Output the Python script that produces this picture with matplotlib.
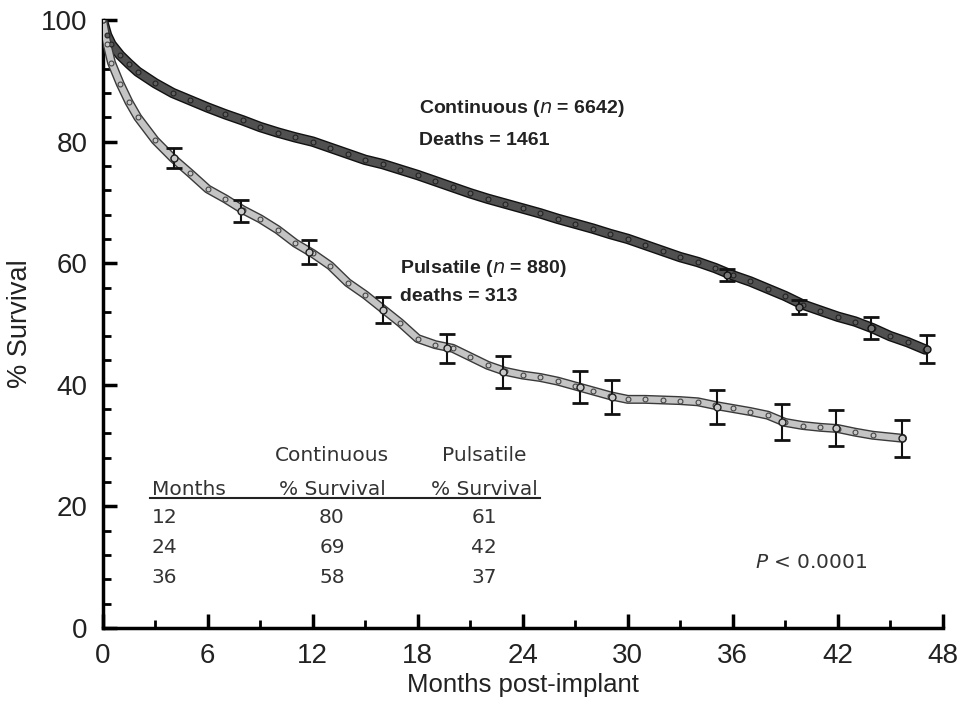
import matplotlib
matplotlib.use("Agg")
import matplotlib.pyplot as plt
import matplotlib.patheffects as pe
from matplotlib.ticker import MultipleLocator

# continuous-flow curve (months, % survival)
cont_months = [0, 0.25, 0.5, 1, 1.5, 2, 3, 4, 5, 6, 7, 8, 9, 10, 11, 12, 13, 14, 15, 16, 17, 18,
               19, 20, 21, 22, 23, 24, 25, 26, 27, 28, 29, 30, 31, 32, 33, 34, 35, 36, 37, 38,
               39, 40, 41, 42, 43, 44, 45, 46, 47]
cont_surv = [100, 97.5, 96, 94.2, 92.8, 91.5, 89.6, 88, 86.8, 85.6, 84.5, 83.5, 82.4, 81.5, 80.7, 80,
             79, 78, 77, 76.3, 75.4, 74.5, 73.5, 72.5, 71.5, 70.6, 69.8, 69, 68.2, 67.3, 66.5,
             65.7, 64.8, 64, 63, 62, 61, 60.2, 59.2, 58, 57, 55.8, 54.6, 53.2, 52.2, 51.2, 50.4,
             49.3, 48, 47, 45.8]
cont_err_m = [35.7, 39.8, 43.9, 47.1]
cont_err_s = [58, 52.8, 49.3, 45.9]
cont_err_e = [1.0, 1.2, 1.8, 2.3]

# pulsatile-flow curve
puls_months = [0, 0.25, 0.5, 1, 1.5, 2, 3, 4, 5, 6, 7, 8, 9, 10, 11, 12, 13, 14, 15, 16, 17,
               18, 19, 20, 21, 22, 23, 24, 25, 26, 27, 28, 29, 30, 31, 32, 33, 34, 35, 36, 37,
               38, 39, 40, 41, 42, 43, 44, 45.7]
puls_surv = [100, 96, 93, 89.5, 86.5, 84, 80.2, 77.3, 74.8, 72.2, 70.6, 68.8, 67.3, 65.5, 63.3, 61.6,
             59.6, 56.8, 54.8, 52.5, 50.2, 47.6, 46.6, 46, 44.6, 43.2, 42.2, 41.6, 41.2, 40.6,
             39.8, 39, 38.2, 37.6, 37.6, 37.5, 37.4, 37.2, 36.6, 36.1, 35.6, 35, 33.8, 33.3,
             33, 32.8, 32.2, 31.7, 31.2]
puls_err_m = [4.1, 7.9, 11.8, 16.0, 19.7, 22.9, 27.3, 29.1, 35.1, 38.8, 41.9, 45.7]
puls_err_s = [77.3, 68.6, 61.8, 52.3, 46.0, 42.1, 39.6, 38.0, 36.3, 33.9, 32.9, 31.2]
puls_err_e = [1.6, 1.8, 2.0, 2.2, 2.4, 2.6, 2.6, 2.8, 2.8, 3.0, 3.0, 3.0]

# survival table
tab_months = ["12", "24", "36"]
tab_cont = ["80", "69", "58"]
tab_puls = ["61", "42", "37"]

fig = plt.figure(figsize=(9.6, 7.16), dpi=100)
ax = fig.add_axes([0.107, 0.123, 0.875, 0.849])

# continuous band
ax.plot(cont_months, cont_surv, color="#505050", lw=5.5, solid_capstyle="round", zorder=3,
        path_effects=[pe.Stroke(linewidth=7.5, foreground="#111111"), pe.Normal()])
ax.plot(cont_months, cont_surv, ls="none", marker="o", ms=3.5, mfc="#606060", mec="#222222",
        mew=0.8, zorder=3.5)
ax.errorbar(cont_err_m, cont_err_s, yerr=cont_err_e, fmt="o", ms=5, mfc="#777777", mec="#111111",
            ecolor="#111111", elinewidth=1.5, capsize=6, capthick=2, zorder=4)

# pulsatile band
ax.plot(puls_months, puls_surv, color="#c4c4c4", lw=4.5, solid_capstyle="round", zorder=3,
        path_effects=[pe.Stroke(linewidth=6.5, foreground="#3a3a3a"), pe.Normal()])
ax.plot(puls_months, puls_surv, ls="none", marker="o", ms=3.5, mfc="#c8c8c8", mec="#444444",
        mew=0.8, zorder=3.5)
ax.errorbar(puls_err_m, puls_err_s, yerr=puls_err_e, fmt="o", ms=5, mfc="#c8c8c8", mec="#222222",
            ecolor="#111111", elinewidth=1.5, capsize=6, capthick=2, zorder=4)

ax.set_xlim(0, 48)
ax.set_ylim(0, 100)
ax.xaxis.set_major_locator(MultipleLocator(6))
ax.xaxis.set_minor_locator(MultipleLocator(3))
ax.yaxis.set_major_locator(MultipleLocator(20))
ax.yaxis.set_minor_locator(MultipleLocator(4))
ax.tick_params(which="major", direction="in", length=10, width=2.5, labelsize=20, pad=11,
               labelcolor="#222222")
ax.tick_params(which="minor", direction="in", length=6, width=2)
for s in ["top", "right"]:
    ax.spines[s].set_visible(False)
for s in ["left", "bottom"]:
    ax.spines[s].set_linewidth(2.5)
for lab in ax.get_xticklabels() + ax.get_yticklabels():
    lab.set_family("Liberation Sans")

ax.set_xlabel("Months post-implant", fontsize=18.5, family="Liberation Sans", labelpad=3,
              color="#222222")
ax.set_ylabel("% Survival", fontsize=19.5, family="Liberation Sans", labelpad=6, color="#222222")

ax.text(18.1, 85.5, r"Continuous ($\mathit{n}$ = 6642)", fontsize=14, fontweight="bold",
        family="Liberation Sans", va="center", color="#222222")
ax.text(18.1, 80.2, "Deaths = 1461", fontsize=14, fontweight="bold", family="Liberation Sans",
        va="center", color="#222222")
ax.text(17.0, 59.2, r"Pulsatile ($\mathit{n}$ = 880)", fontsize=14, fontweight="bold",
        family="Liberation Sans", va="center", color="#222222")
ax.text(17.0, 54.6, "deaths = 313", fontsize=14, fontweight="bold", family="Liberation Sans",
        va="center", color="#222222")

tk = dict(fontsize=14.5, family="DejaVu Sans", va="center", color="#333333")
ax.text(13.1, 28.3, "Continuous", ha="center", **tk)
ax.text(21.8, 28.3, "Pulsatile", ha="center", **tk)
ax.text(2.8, 22.8, "Months", ha="left", **tk)
ax.text(13.1, 22.8, "% Survival", ha="center", **tk)
ax.text(21.8, 22.8, "% Survival", ha="center", **tk)
ax.plot([2.7, 25.0], [21.4, 21.4], color="#222222", lw=1.5)
for i, (m, c, p) in enumerate(zip(tab_months, tab_cont, tab_puls)):
    yy = 18.1 - 4.9 * i
    ax.text(2.8, yy, m, ha="left", **tk)
    ax.text(13.1, yy, c, ha="center", **tk)
    ax.text(21.8, yy, p, ha="center", **tk)

ax.text(37.3, 10.8, r"$\mathit{P}$ < 0.0001", fontsize=14.5, family="DejaVu Sans", va="center",
        color="#333333")

fig.savefig("out.png", dpi=100)
